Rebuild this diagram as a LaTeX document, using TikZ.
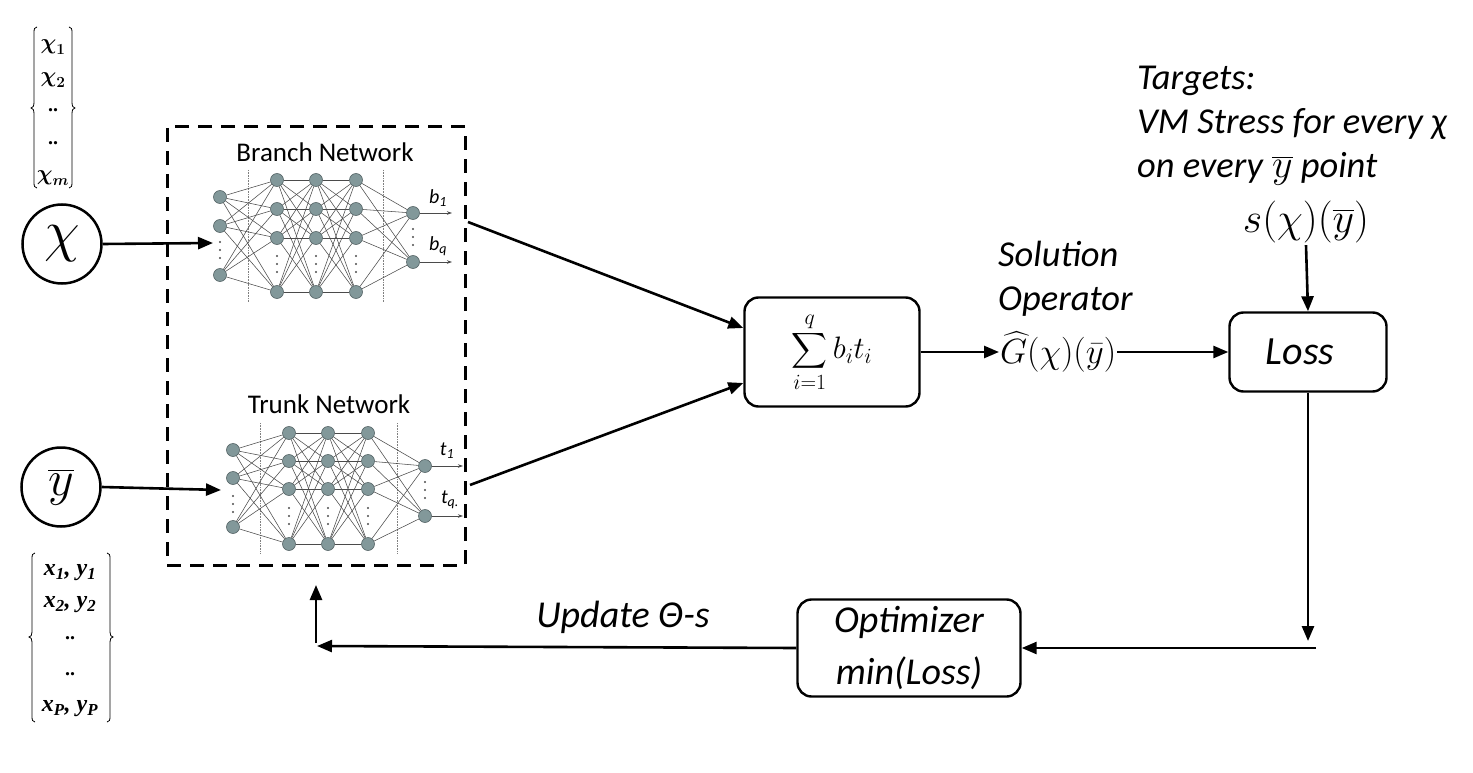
\RequirePackage{fix-cm}
\documentclass[tikz,border=0pt]{standalone}
\usepackage{amsmath}
\usepackage{fontspec}
\setsansfont{Carlito}
\newfontfamily\tnr{Liberation Serif}
\usetikzlibrary{arrows.meta,calc}
\definecolor{nnfill}{RGB}{130,152,154}
\definecolor{nnedge}{RGB}{85,100,102}
\definecolor{nnline}{RGB}{75,75,75}
\begin{document}
\begin{tikzpicture}[x=1pt,y=-1pt,
  bigarrow/.style={line width=2.6pt,-{Triangle[length=15pt,width=12pt]}},
  smallarrow/.style={line width=0.7pt,nnline,-{Stealth[length=5pt,width=3.5pt]}},
  neuron/.style={circle,fill=nnfill,draw=nnedge,line width=0.6pt,minimum size=13pt,inner sep=0pt},
  nnlink/.style={nnline,line width=0.55pt},
  sepline/.style={gray,densely dotted,line width=0.6pt},
  nndot/.style={fill=nnline},
  roundbox/.style={draw,line width=2.4pt,rounded corners=14pt,inner sep=0pt},
  itext/.style={font=\sffamily\itshape\fontsize{36.5}{42}\selectfont,inner sep=0pt},
  nntitle/.style={font=\sffamily\fontsize{27}{30}\selectfont,inner sep=0pt},
  sublbl/.style={font=\sffamily\itshape\fontsize{20}{22}\selectfont,inner sep=0pt},
  listitem/.style={inner sep=0pt,font=\fontsize{22}{22}\selectfont},
  brace/.style={line width=0.8pt},
]
\useasboundingbox (0,0) rectangle (1473,773);

% ---------- input lists ----------
\node[listitem] (c1) at (53,47) {$\boldsymbol{\chi}_{\boldsymbol{1}}$};
\node[listitem] (c2) at (53,80) {$\boldsymbol{\chi}_{\boldsymbol{2}}$};
\node[listitem] (c3) at (53,110) {\tnr\bfseries\fontsize{20}{20}\selectfont ..};
\node[listitem] (c4) at (53,143) {\tnr\bfseries\fontsize{20}{20}\selectfont ..};
\node[listitem] (c5) at (53,178) {$\boldsymbol{\chi}_{\boldsymbol{m}}$};
\draw[brace] (37,27) .. controls (34.5,27) and (34,29) .. (34,33) -- (34,102) .. controls (34,106) and (33,108) .. (31,108) .. controls (33,108) and (34,110) .. (34,114) -- (34,182) .. controls (34,186) and (34.5,188) .. (37,188);
\draw[brace] (69,27) .. controls (71.5,27) and (72,29) .. (72,33) -- (72,102) .. controls (72,106) and (73,108) .. (75,108) .. controls (73,108) and (72,110) .. (72,114) -- (72,182) .. controls (72,186) and (71.5,188) .. (69,188);

\node[listitem] (p1) at (70,573) {\tnr\bfseries\itshape\fontsize{24}{24}\selectfont x\textsubscript{1}, y\textsubscript{1}};
\node[listitem] (p2) at (70,605) {\tnr\bfseries\itshape\fontsize{24}{24}\selectfont x\textsubscript{2}, y\textsubscript{2}};
\node[listitem] (p3) at (70,638) {\tnr\bfseries\fontsize{20}{20}\selectfont ..};
\node[listitem] (p4) at (70,674) {\tnr\bfseries\fontsize{20}{20}\selectfont ..};
\node[listitem] (p5) at (70,709) {\tnr\bfseries\itshape\fontsize{24}{24}\selectfont x\textsubscript{P}, y\textsubscript{P}};
\draw[brace] (35,553) .. controls (32.5,553) and (32,555) .. (32,559) -- (32,632) .. controls (32,635) and (31,637) .. (29,637) .. controls (31,637) and (32,639) .. (32,642) -- (32,716) .. controls (32,720) and (32.5,722) .. (35,722);
\draw[brace] (107,553) .. controls (109.5,553) and (110,555) .. (110,559) -- (110,632) .. controls (110,635) and (111,637) .. (113,637) .. controls (111,637) and (110,639) .. (110,642) -- (110,716) .. controls (110,720) and (109.5,722) .. (107,722);

% ---------- input circles ----------
\node[circle,draw,line width=2.5pt,minimum size=79pt,inner sep=0pt] (chi) at (62,244) {\fontsize{58}{58}\selectfont$\chi$};
\node[circle,draw,line width=2.5pt,minimum size=79pt,inner sep=0pt] (ybar) at (61,487) {\fontsize{50}{50}\selectfont$\overline{y}$};

% ---------- dashed box ----------
\node[draw,line width=3pt,dash pattern=on 14pt off 9pt,minimum width=298pt,minimum height=438pt,inner sep=0pt] (box) at (316,346) {};

% ---------- branch network ----------
\node[nntitle] (brt) at (325,152) {Branch Network};
\draw[sepline] (248,170) -- (248,302);
\draw[sepline] (383,170) -- (383,302);
\foreach \i/\y in {1/197,2/226,3/275} \node[neuron] (b0\i) at (220,\y) {};
\foreach \l/\x in {1/277,2/316,3/356} {
  \foreach \i/\y in {1/180,2/209,3/238,4/292} \node[neuron] (b\l\i) at (\x,\y) {};
}
\foreach \i/\y in {1/213,2/262} \node[neuron] (b4\i) at (413,\y) {};
\foreach \i in {1,2,3} \foreach \j in {1,2,3,4} \draw[nnlink] (b0\i) -- (b1\j);
\foreach \i in {1,2,3,4} \foreach \j in {1,2,3,4} {\draw[nnlink] (b1\i) -- (b2\j); \draw[nnlink] (b2\i) -- (b3\j);}
\foreach \i in {1,2,3,4} \foreach \j in {1,2} \draw[nnlink] (b3\i) -- (b4\j);
\foreach \y in {242,250,258} \fill[nndot] (220,\y) circle (1.1);
\foreach \x in {277,316,356} \foreach \y in {256,264,272} \fill[nndot] (\x,\y) circle (1.1);
\foreach \y in {229,237,245} \fill[nndot] (413,\y) circle (1.1);
\coordinate (bo1) at (452,213);
\coordinate (bo2) at (452,262);
\draw[smallarrow] (b41) -- (bo1);
\draw[smallarrow] (b42) -- (bo2);
\node[sublbl] (lb1) at (438,198) {b\textsubscript{1}};
\node[sublbl] (lb2) at (438,246) {b\textsubscript{q}};

% ---------- trunk network ----------
\node[nntitle] (trt) at (329,404) {Trunk Network};
\draw[sepline] (260,423) -- (260,553);
\draw[sepline] (397,423) -- (397,553);
\foreach \i/\y in {1/450,2/478,3/527} \node[neuron] (t0\i) at (233,\y) {};
\foreach \l/\x in {1/289,2/328,3/368} {
  \foreach \i/\y in {1/433,2/461,3/489,4/544} \node[neuron] (t\l\i) at (\x,\y) {};
}
\foreach \i/\y in {1/466,2/516} \node[neuron] (t4\i) at (425,\y) {};
\foreach \i in {1,2,3} \foreach \j in {1,2,3,4} \draw[nnlink] (t0\i) -- (t1\j);
\foreach \i in {1,2,3,4} \foreach \j in {1,2,3,4} {\draw[nnlink] (t1\i) -- (t2\j); \draw[nnlink] (t2\i) -- (t3\j);}
\foreach \i in {1,2,3,4} \foreach \j in {1,2} \draw[nnlink] (t3\i) -- (t4\j);
\foreach \y in {496,504,512} \fill[nndot] (233,\y) circle (1.1);
\foreach \x in {289,328,368} \foreach \y in {508,516,524} \fill[nndot] (\x,\y) circle (1.1);
\foreach \y in {482,490,498} \fill[nndot] (425,\y) circle (1.1);
\coordinate (to1) at (463,466);
\coordinate (to2) at (463,516);
\draw[smallarrow] (t41) -- (to1);
\draw[smallarrow] (t42) -- (to2);
\node[sublbl] (lt1) at (447,451) {t\textsubscript{1}};
\node[sublbl] (lt2) at (450,500) {t\textsubscript{q.}};

% ---------- inputs into networks ----------
\coordinate (brin) at (213,243);
\coordinate (trin) at (221,490);
\draw[bigarrow] (chi.east) -- (brin);
\draw[bigarrow] (ybar.east) -- (trin);

% ---------- sum node ----------
\node[roundbox,minimum width=175pt,minimum height=109pt] (sum) at (832,352) {\fontsize{31}{31}\selectfont$\displaystyle\sum_{i=1}^{q} b_i t_i$};
\coordinate (bout) at (468,222);
\coordinate (tout) at (470,485);
\draw[bigarrow] (bout) -- ([yshift=24pt]sum.west);
\draw[bigarrow] (tout) -- ([yshift=-31pt]sum.west);

% ---------- solution operator ----------
\node[itext,anchor=base west] (sol1) at (998,266) {Solution};
\node[itext,anchor=base west] (sol2) at (998,310) {Operator};
\node[anchor=west,inner sep=1pt] (G) at (999,352) {\fontsize{35}{35}\selectfont$\widehat{G}(\chi)(\bar{y})$};
\draw[bigarrow] (sum.east) -- (G.west);

% ---------- loss ----------
\node[roundbox,minimum width=157pt,minimum height=79pt] (loss) at (1308,352) {\sffamily\itshape\fontsize{40}{40}\selectfont\hspace*{-16pt}Loss};
\draw[bigarrow] (G.east) -- (loss.west);

% ---------- targets ----------
\node[itext,anchor=base west] (tg1) at (1137,90) {Targets:};
\node[itext,anchor=base west] (tg2) at (1137,134) {VM Stress for every χ};
\node[itext,anchor=base west] (tg3) at (1137,178) {on every \textup{\fontsize{40}{40}\selectfont$\overline{y}$} point};
\node[inner sep=2pt] (s) at (1306,222) {\fontsize{42}{42}\selectfont$s(\chi)(\overline{y})$};
\draw[bigarrow] (s.south) -- (loss.north);

% ---------- optimizer feedback ----------
\node[roundbox,minimum width=223pt,minimum height=97pt,align=center,font=\sffamily\itshape\fontsize{38}{52}\selectfont] (opt) at (909,648) {Optimizer\\min(Loss)};
\coordinate (ldown) at (1308,641);
\coordinate (rin) at (1316,648);
\draw[bigarrow] (loss.south) -- (ldown);
\draw[bigarrow] (rin) -- (opt.east);
\coordinate (lend) at (317,646);
\draw[bigarrow] (opt.west) -- (lend);
\node[itext,font=\sffamily\itshape\fontsize{38}{42}\selectfont] (upd) at (623,617) {Update Θ-s};
\coordinate (ustart) at (316,643);
\coordinate (utip) at (316,585);
\draw[bigarrow] (ustart) -- (utip);
\end{tikzpicture}
\end{document}
